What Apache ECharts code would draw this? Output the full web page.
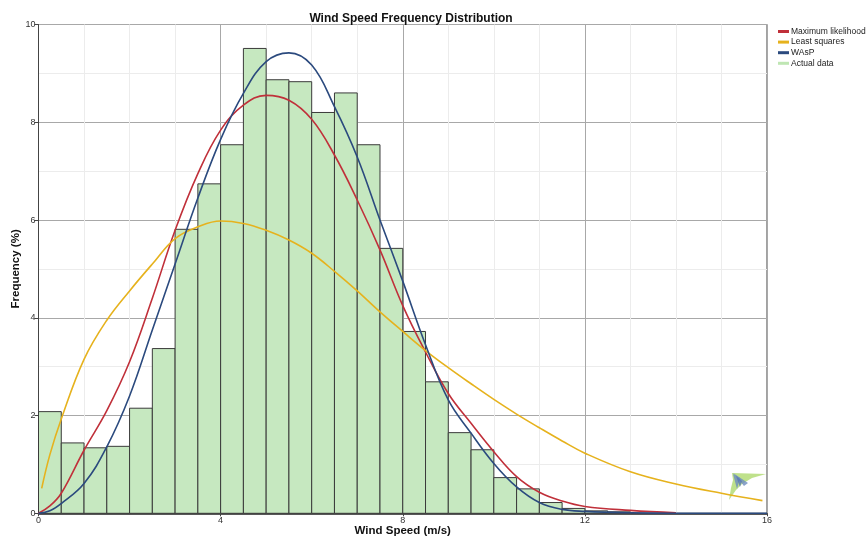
<!DOCTYPE html>
<html>
<head>
<meta charset="utf-8">
<script src="https://cdn.jsdelivr.net/npm/echarts@6/dist/echarts.min.js"></script>
<style>html,body{margin:0;padding:0;background:#fff}#c{width:868px;height:540px}</style>
</head>
<body>
<div id="c"></div>
<script>
// ---- data ----
var binWidth = 0.5;
var binStart = [0,0.5,1,1.5,2,2.5,3,3.5,4,4.5,5,5.5,6,6.5,7,7.5,8,8.5,9,9.5,10,10.5,11,11.5,12,12.5];
var actualFreq = [2.08,1.44,1.34,1.37,2.15,3.37,5.81,6.74,7.54,9.51,8.87,8.83,8.20,8.60,7.54,5.42,3.72,2.69,1.65,1.30,0.73,0.50,0.22,0.10,0.05,0.03];

var curveX = [0,0.25,0.5,1,1.5,2,2.5,3,3.5,4,4.5,5,5.5,6,6.5,7,7.5,8,8.5,9,9.5,10,10.5,11,11.5,12,13,14,15,16];
var mlFreq = [0,0.15,0.41,1.29,2.1,3.1,4.4,5.79,6.95,7.84,8.35,8.55,8.45,8.06,7.33,6.41,5.39,4.25,3.3,2.45,1.84,1.26,0.75,0.43,0.25,0.14,0.06,0.01,null,null];
var waspFreq = [0,0.05,0.2,0.61,1.36,2.4,3.75,5.1,6.45,7.65,8.59,9.24,9.42,9.17,8.32,7.29,6.0,4.75,3.45,2.32,1.64,1.02,0.54,0.22,0.08,0.04,0.01,0,0,0];

var lsX = [0.07,0.25,0.5,1,1.5,2,2.5,3,3.5,4,4.5,5,5.5,6,6.5,7,7.5,8,8.5,9,9.5,10,10.5,11,11.5,12,13,14,15,15.9];
var lsFreq = [0.51,1.2,1.93,3.15,3.95,4.55,5.1,5.62,5.86,5.98,5.93,5.79,5.59,5.32,4.95,4.55,4.12,3.72,3.33,2.98,2.65,2.33,2.03,1.75,1.48,1.23,0.85,0.6,0.41,0.26];

var xTicks = [0,4,8,12,16];
var yTicks = [0,2,4,6,8,10];

function pairs(xs, ys){ var o=[]; for(var i=0;i<xs.length;i++){ o.push([xs[i], ys[i]]); } return o; }
var barData = binStart.map(function(s,i){ return [s, s+binWidth, actualFreq[i]]; });

var FONT = 'Liberation Sans, Arial, sans-serif';
var chart = echarts.init(document.getElementById('c'), null, {renderer:'canvas'});
chart.setOption({
  animation:false,
  backgroundColor:'#fff',
  title:{text:'Wind Speed Frequency Distribution', left:406, top:8, textAlign:'center',
    textStyle:{fontFamily:FONT, fontSize:12, fontWeight:'bold', color:'#111'}},
  legend:{orient:'vertical', left:773, top:22, itemGap:1.6, itemWidth:11, itemHeight:3, icon:'rect',
    textStyle:{fontFamily:FONT, fontSize:8.5, color:'#222', padding:[0,0,0,-3]},
    data:[
      {name:'Maximum likelihood', itemStyle:{color:'#c0303a'}},
      {name:'Least squares', itemStyle:{color:'#e6b21d'}},
      {name:'WAsP', itemStyle:{color:'#2b4a7e'}},
      {name:'Actual data', itemStyle:{color:'#bfe6b3'}}
    ]},
  grid:{left:38.5, right:101, top:24.5, bottom:26.7, containLabel:false, outerBoundsMode:'none',
    show:true, borderColor:'#444', borderWidth:1},
  xAxis:{type:'value', min:0, max:16, interval:4,
    name:'Wind Speed (m/s)', nameLocation:'middle', nameGap:12, nameMoveOverlap:false,
    nameTextStyle:{fontFamily:FONT, fontSize:11.5, fontWeight:'bold', color:'#111'},
    axisLine:{show:true, lineStyle:{color:'#222', width:1.5}},
    axisTick:{show:true, length:3, lineStyle:{color:'#444'}},
    axisLabel:{fontFamily:FONT, fontSize:9, color:'#333', margin:3,
      formatter:function(v){ return xTicks.indexOf(v)>=0 ? String(v) : ''; }},
    splitLine:{show:true, lineStyle:{color:'#a8a8a8', width:1}},
    minorTick:{show:false, splitNumber:4},
    minorSplitLine:{show:true, lineStyle:{color:'#ececec', width:1}}
  },
  yAxis:{type:'value', min:0, max:10, interval:2,
    name:'Frequency (%)', nameLocation:'middle', nameGap:17, nameRotate:90, nameMoveOverlap:false,
    nameTextStyle:{fontFamily:FONT, fontSize:11.5, fontWeight:'bold', color:'#111'},
    axisLine:{show:true, lineStyle:{color:'#444', width:1}},
    axisTick:{show:true, length:4, lineStyle:{color:'#444'}},
    axisLabel:{fontFamily:FONT, fontSize:9, color:'#333', margin:3,
      formatter:function(v){ return yTicks.indexOf(v)>=0 ? String(v) : ''; }},
    splitLine:{show:true, lineStyle:{color:'#a8a8a8', width:1}},
    minorTick:{show:false, splitNumber:2},
    minorSplitLine:{show:true, lineStyle:{color:'#ececec', width:1}}
  },
  series:[
    {name:'Actual data', type:'custom', z:2, itemStyle:{color:'#c6e8c0'},
      data:barData, encode:{x:[0,1], y:2},
      renderItem:function(params, api){
        var p0 = api.coord([api.value(0), 0]);
        var p1 = api.coord([api.value(1), api.value(2)]);
        return {type:'rect', shape:{x:p0[0], y:p1[1], width:p1[0]-p0[0], height:p0[1]-p1[1]},
          style:{fill:'#c6e8c0', stroke:'#3a3a3a', lineWidth:1}};
      }},
    {name:'Maximum likelihood', type:'line', z:4, smooth:0.4, showSymbol:false, connectNulls:false,
      lineStyle:{color:'#c0303a', width:1.6}, itemStyle:{color:'#c0303a'},
      data:pairs(curveX, mlFreq)},
    {name:'Least squares', type:'line', z:4, smooth:0.4, showSymbol:false,
      lineStyle:{color:'#e6b21d', width:1.6}, itemStyle:{color:'#e6b21d'},
      data:pairs(lsX, lsFreq)},
    {name:'WAsP', type:'line', z:5, smooth:0.4, showSymbol:false,
      lineStyle:{color:'#2b4a7e', width:1.6}, itemStyle:{color:'#2b4a7e'},
      data:pairs(curveX, waspFreq)}
  ],
  graphic:[
    {type:'group', z:10, silent:true, children:[
      {type:'polygon', shape:{points:[[732,473],[766,474],[752,478],[742,484],[736,490],[729,500],[731,488],[733,480]]},
        style:{fill:'rgba(170,215,100,0.75)'}},
      {type:'polygon', shape:{points:[[733,473],[748,483],[744,486]]}, style:{fill:'rgba(110,140,190,0.8)'}},
      {type:'polygon', shape:{points:[[733,474],[740,478],[737,489]]}, style:{fill:'rgba(110,140,190,0.8)'}},
      {type:'polygon', shape:{points:[[736,476],[742,481],[740,487]]}, style:{fill:'rgba(90,120,180,0.8)'}}
    ]}
  ]
});
</script>
</body>
</html>
